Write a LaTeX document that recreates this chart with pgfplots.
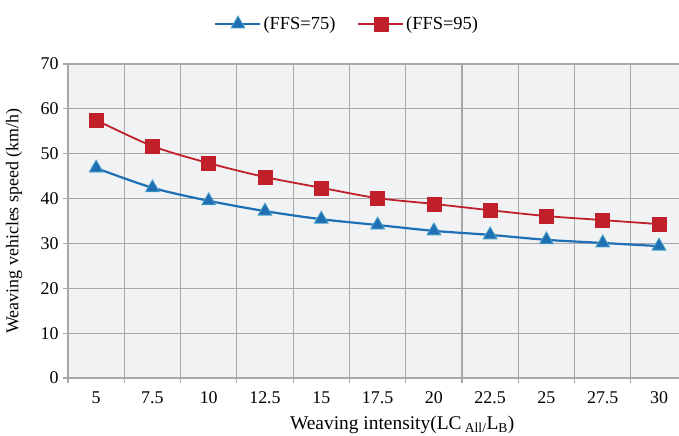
\documentclass[border=0pt]{standalone}
\usepackage{pgfplots}
\pgfplotsset{compat=1.18}
\usepackage{fontspec}
\setmainfont{Liberation Serif}
\definecolor{bgc}{HTML}{F1F2F4}
\definecolor{gridc}{HTML}{A8A8A8}
\definecolor{blueL}{HTML}{1F6FB4}
\definecolor{blueE}{HTML}{4AA3C8}
\definecolor{redL}{HTML}{C0202A}
\begin{document}
\begin{tikzpicture}[x=1bp,y=1bp]
\begin{axis}[
  name=ax,
  scale only axis,
  width=611bp, height=314bp,
  xmin=-0.5, xmax=10.355,
  ymin=0, ymax=70,
  ytick={0,10,...,70},
  xtick={0,...,10},
  xticklabels={5,7.5,10,12.5,15,17.5,20,22.5,25,27.5,30},
  minor xtick={-0.5,0.5,...,9.5},
  axis x line*=bottom,
  axis y line*=left,
  axis line style={gridc, line width=1.2bp, -},
  axis background/.style={fill=bgc},
  ymajorgrids, xminorgrids,
  major grid style={gridc, line width=1.2bp},
  minor grid style={gridc, line width=1.2bp},
  major x tick style={draw=none},
  minor x tick style={gridc, line width=1.2bp},
  ytick style={gridc, line width=1.2bp},
  tick align=outside,
  major tick length=5bp, minor tick length=5bp,
  tick label style={font=\fontsize{18}{21}\selectfont},
  /pgf/number format/assume math mode=true,
  xticklabel style={yshift=-5bp},
  yticklabel style={xshift=-1bp},
  label style={font=\fontsize{18}{21}\selectfont},
  xlabel={Weaving intensity(LC\,\textsubscript{All/}L\textsubscript{B})},
  ylabel={Weaving vehicles speed (km/h)},
  xlabel style={at={([yshift=-47bp]axis description cs:0.547,0)}, anchor=center, font=\fontsize{19.5}{22}\selectfont},
  ylabel style={at={([xshift=-54bp]axis description cs:0,0.5)}, anchor=center, rotate=0},
  legend columns=2,
  legend style={at={([yshift=40bp]axis description cs:0.457,1)}, anchor=center, draw=none, fill=none,
    font=\fontsize{18.5}{21}\selectfont, /tikz/every even column/.append style={column sep=20bp}},
  legend image code/.code={%
    \draw[#1, mark=none] (0bp,0bp) -- (45bp,0bp);
    \draw[#1, only marks] plot coordinates {(22.5bp,0bp)};},
  clip=false,
]
\addplot[blueL, line width=2.2bp, smooth, mark=triangle*, mark size=8bp,
  mark options={fill=blueL, draw=blueE, line width=0.8bp}]
  coordinates {(0,46.8) (1,42.4) (2,39.5) (3,37.2) (4,35.4) (5,34.1) (6,32.8) (7,31.9) (8,30.8) (9,30.1) (10,29.4)};
\addlegendentry{(FFS=75)}
\addplot[redL, line width=1.8bp, smooth, mark=square*, mark size=7bp,
  mark options={fill=redL, draw=redL, line width=0.5bp}]
  coordinates {(0,57.5) (1,51.7) (2,47.9) (3,44.8) (4,42.4) (5,40.1) (6,38.8) (7,37.4) (8,36.1) (9,35.2) (10,34.3)};
\addlegendentry{(FFS=95)}
\coordinate (bl) at (rel axis cs:0,0);
\coordinate (tr) at (rel axis cs:1,1);
\end{axis}
\pgfresetboundingbox
\path ([shift={(-68bp,-58bp)}]bl) rectangle ([shift={(0bp,64bp)}]tr);
\end{tikzpicture}
\end{document}
